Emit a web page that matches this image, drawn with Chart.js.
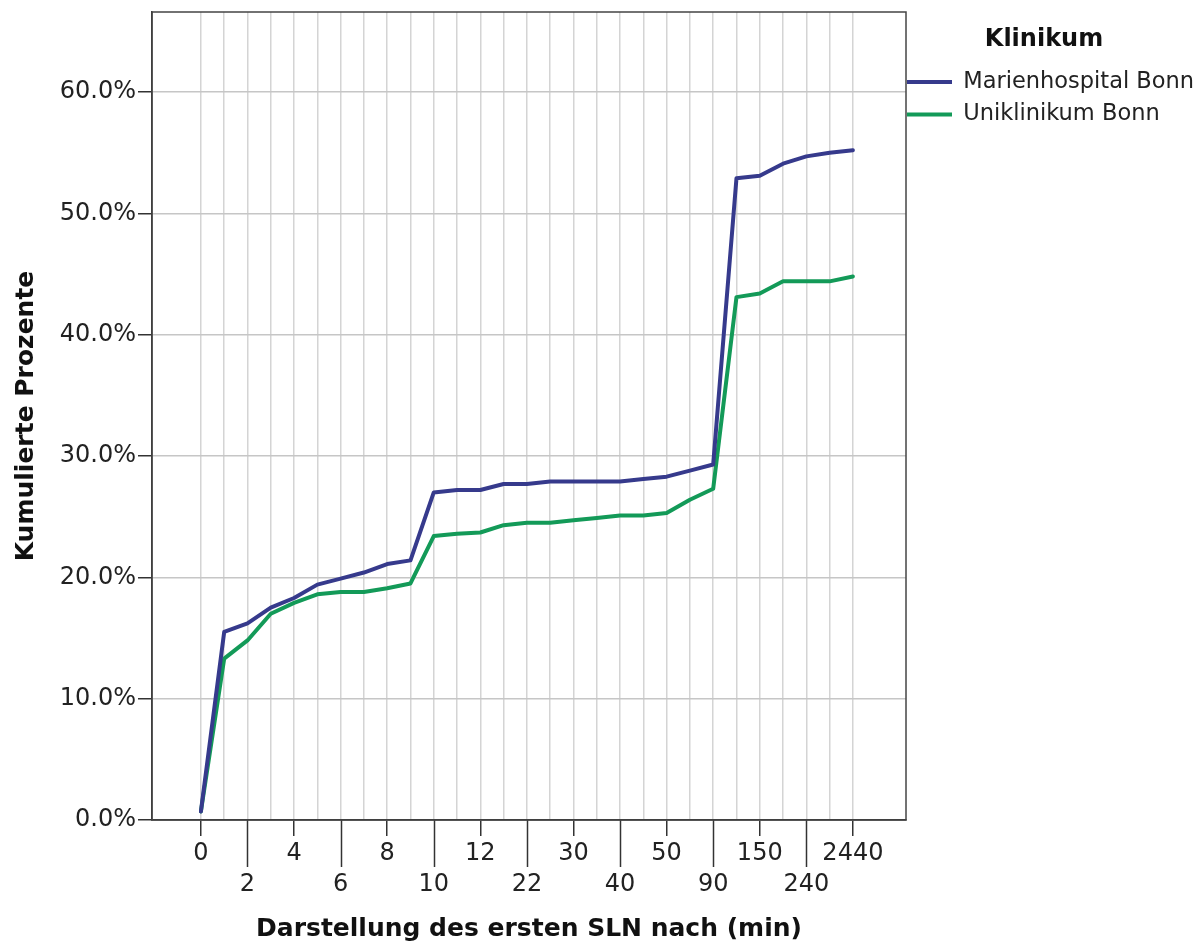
<!DOCTYPE html>
<html>
<head>
<meta charset="utf-8">
<script src="https://cdn.jsdelivr.net/npm/chart.js@4.4.1/dist/chart.umd.min.js"></script>
<style>
  html, body { margin: 0; padding: 0; background: #ffffff; }
  #wrap { width: 1200px; height: 946px; position: relative; }
</style>
</head>
<body>
<div id="wrap"><canvas id="c" width="1200" height="946"></canvas></div>
<script>
// Categories of the x axis (minutes); every second one is labelled
const categories = ['0','1','2','3','4','5','6','7','8','9','10','11','12','15','22','25','30','35','40','45','50','60','90','120','150','180','240','300','2440'];
// Cumulative percentages
const marienValues = [0.7, 15.5, 16.2, 17.5, 18.3, 19.4, 19.9, 20.4, 21.1, 21.4, 27.0, 27.2, 27.2, 27.7, 27.7, 27.9, 27.9, 27.9, 27.9, 28.1, 28.3, 28.8, 29.3, 52.9, 53.1, 54.1, 54.7, 55.0, 55.2];
const uniValues    = [0.7, 13.3, 14.8, 17.0, 17.9, 18.6, 18.8, 18.8, 19.1, 19.5, 23.4, 23.6, 23.7, 24.3, 24.5, 24.5, 24.7, 24.9, 25.1, 25.1, 25.3, 26.4, 27.3, 43.1, 43.4, 44.4, 44.4, 44.4, 44.8];
const seriesNames = ['Marienhospital Bonn', 'Uniklinikum Bonn'];
const yTickValues = [0, 10, 20, 30, 40, 50, 60];

const BLUE = '#363a8c';
const GREEN = '#139a58';

const toPoints = arr => arr.map((v, i) => ({ x: i, y: v }));

const frame = {
  id: 'frame',
  beforeDraw(chart) {
    if (!chart.$legendShifted) {
      chart.legend.left -= 9;
      chart.$legendShifted = true;
    }
  },
  afterDraw(chart) {
    const { ctx, chartArea: a, scales } = chart;
    const xs = scales.x;
    ctx.save();
    ctx.strokeStyle = '#333333';
    ctx.lineWidth = 1.5;
    categories.forEach((c, i) => {
      if (i % 4 === 2) {
        const px = Math.round(xs.getPixelForValue(i)) + 0.5;
        ctx.beginPath();
        ctx.moveTo(px, a.bottom);
        ctx.lineTo(px, a.bottom + 47);
        ctx.stroke();
      }
    });
    ctx.strokeStyle = '#444444';
    ctx.lineWidth = 1.5;
    ctx.strokeRect(a.left, a.top, a.right - a.left, a.bottom - a.top);
    ctx.restore();
  }
};

new Chart(document.getElementById('c'), {
  type: 'line',
  data: {
    datasets: [
      { label: seriesNames[0], data: toPoints(marienValues), borderColor: BLUE, backgroundColor: BLUE, borderWidth: 4, pointRadius: 0, tension: 0, borderJoinStyle: 'round', borderCapStyle: 'round' },
      { label: seriesNames[1], data: toPoints(uniValues), borderColor: GREEN, backgroundColor: GREEN, borderWidth: 4, pointRadius: 0, tension: 0, borderJoinStyle: 'round', borderCapStyle: 'round' }
    ]
  },
  options: {
    responsive: false,
    animation: false,
    devicePixelRatio: 1,
    layout: { padding: { top: 12, right: 0, left: 0, bottom: 0 } },
    plugins: {
      tooltip: { enabled: false },
      legend: {
        position: 'right',
        align: 'start',
        maxWidth: 294,
        title: { display: true, text: 'Klinikum', color: '#111111', font: { family: 'DejaVu Sans', size: 24, weight: 'bold' }, padding: { top: 16, bottom: 4 } },
        labels: {
          color: '#222222',
          font: { family: 'DejaVu Sans', size: 22.5 },
          boxWidth: 45,
          boxHeight: 4,
          padding: 10,
          generateLabels(chart) {
            return chart.data.datasets.map((d, i) => ({
              text: d.label, fillStyle: d.borderColor, strokeStyle: d.borderColor, lineWidth: 0, hidden: false, datasetIndex: i, fontColor: '#222222'
            }));
          }
        }
      }
    },
    scales: {
      x: {
        type: 'linear',
        min: -2.1,
        max: 30.28,
        afterBuildTicks(s) { s.ticks = categories.map((c, i) => ({ value: i })); },
        afterFit(s) { s.height = 126; s.paddingLeft = 0; s.paddingRight = 0; },
        ticks: {
          autoSkip: false,
          maxRotation: 0,
          padding: 2,
          color: '#222222',
          font: { family: 'DejaVu Sans', size: 24, lineHeight: 1.3 },
          callback(v) {
            const i = Math.round(v);
            if (i % 4 === 0) return categories[i];
            if (i % 4 === 2) return ['', categories[i]];
            return '';
          }
        },
        grid: {
          color: '#d4d4d4',
          lineWidth: 1.5,
          tickLength: 16,
          tickColor: ctx => (ctx.tick && Math.round(ctx.tick.value) % 4 === 0 ? '#333333' : 'rgba(0,0,0,0)'),
          tickWidth: 1.5
        },
        border: { color: '#333333', width: 1.5 },
        title: { display: true, text: 'Darstellung des ersten SLN nach (min)', color: '#111111', font: { family: 'DejaVu Sans', size: 25, weight: 'bold' }, padding: { top: 2, bottom: 2 } }
      },
      y: {
        min: 0,
        max: 66.6,
        afterBuildTicks(s) { s.ticks = yTickValues.map(v => ({ value: v })); },
        afterFit(s) { s.width = 152; s.paddingTop = 0; s.paddingBottom = 0; },
        ticks: {
          padding: 2,
          color: '#222222',
          font: { family: 'DejaVu Sans', size: 24 },
          callback: v => v.toFixed(1) + '%'
        },
        grid: { color: '#c6c6c6', lineWidth: 1.5, tickLength: 14, tickColor: '#333333', tickWidth: 1.5 },
        border: { color: '#333333', width: 1.5 },
        title: { display: true, text: 'Kumulierte Prozente', color: '#111111', font: { family: 'DejaVu Sans', size: 25, weight: 'bold' }, padding: { top: 11, bottom: 11 } }
      }
    }
  },
  plugins: [frame]
});
</script>
</body>
</html>
